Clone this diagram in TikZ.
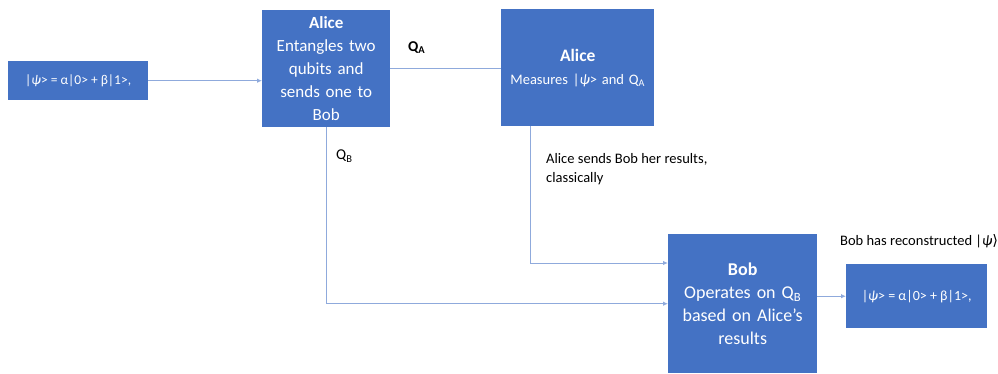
\documentclass[tikz,border=0pt]{standalone}
\usepackage{fontspec}
\setmainfont{Carlito}
\newfontfamily\symfont{DejaVu Sans}
\usetikzlibrary{arrows.meta}
\definecolor{boxblue}{HTML}{4472C4}
\definecolor{linkblue}{HTML}{8FAADC}
\newcommand{\fs}[2]{\fontsize{#1}{#2}\selectfont}
\newcommand{\psistate}{|\textit{ψ}> = α|0> + β|1>,}
\begin{document}
\begin{tikzpicture}[x=1pt,y=-1pt,
  box/.style={fill=boxblue, text=white, align=center, inner sep=2pt, anchor=north west},
  link/.style={draw=linkblue, line width=1pt},
  tip/.style={-{Latex[length=5pt,width=4.5pt]}},
  lbl/.style={text=black, align=left, anchor=north west, inner sep=0pt}]
\useasboundingbox (0,0) rectangle (998,373);

% state to teleport
\node[box, minimum width=140pt, minimum height=39pt, font=\fs{13.5}{16}] (psi) at (8,61) {\psistate};

% Alice prepares the entangled pair
\node[box, minimum width=128pt, minimum height=117pt, text width=124pt, font=\fs{17}{23}] (ent) at (262,10)
  {\textbf{Alice}\\Entangles two\\qubits and\\sends one to\\Bob};

% Alice's measurement
\node[box, minimum width=153pt, minimum height=117pt, text width=149pt, font=\fs{14.5}{21}] (meas) at (501,9)
  {{\fs{17.5}{21}\textbf{Alice}}\\[2pt]Measures |\textit{ψ}> and Q\textsubscript{A}};

% Bob's correction
\node[box, minimum width=149pt, minimum height=139pt, text width=145pt, font=\fs{18}{22.7}] (bob) at (668,234)
  {\textbf{Bob}\\Operates on Q\textsubscript{B}\\based on Alice’s\\results};

% reconstructed state
\node[box, minimum width=141pt, minimum height=64pt, font=\fs{14}{16}] (out) at (846,264) {\psistate};

% connectors
\draw[link, tip] (psi.east) -- (psi.east -| ent.west);
\draw[link] (ent.east) -- (ent.east -| meas.west);
\draw[link, tip] (ent.south) -- (ent.south |- bob.west) -- (bob.west);
\coordinate (mdrop) at (530,126);
\coordinate (mturn) at (530,263);
\draw[link, tip] (mdrop) -- (mturn) -- (mturn -| bob.west);
\draw[link, tip] (bob.east |- out.west) -- (out.west);

% labels
\node[lbl, font=\fs{15}{18}\bfseries] (qa) at (408,41) {Q\textsubscript{A}};
\node[lbl, font=\fs{15}{18}] (qb) at (336,150) {Q\textsubscript{B}};
\node[lbl, font=\fs{14.5}{19}] (cls) at (546,153) {Alice sends Bob her results,\\classically};
\node[lbl, font=\fs{14.5}{17}] (rec) at (840,234) {Bob has reconstructed |\textit{ψ}{\symfont ⟩}};
\end{tikzpicture}
\end{document}
